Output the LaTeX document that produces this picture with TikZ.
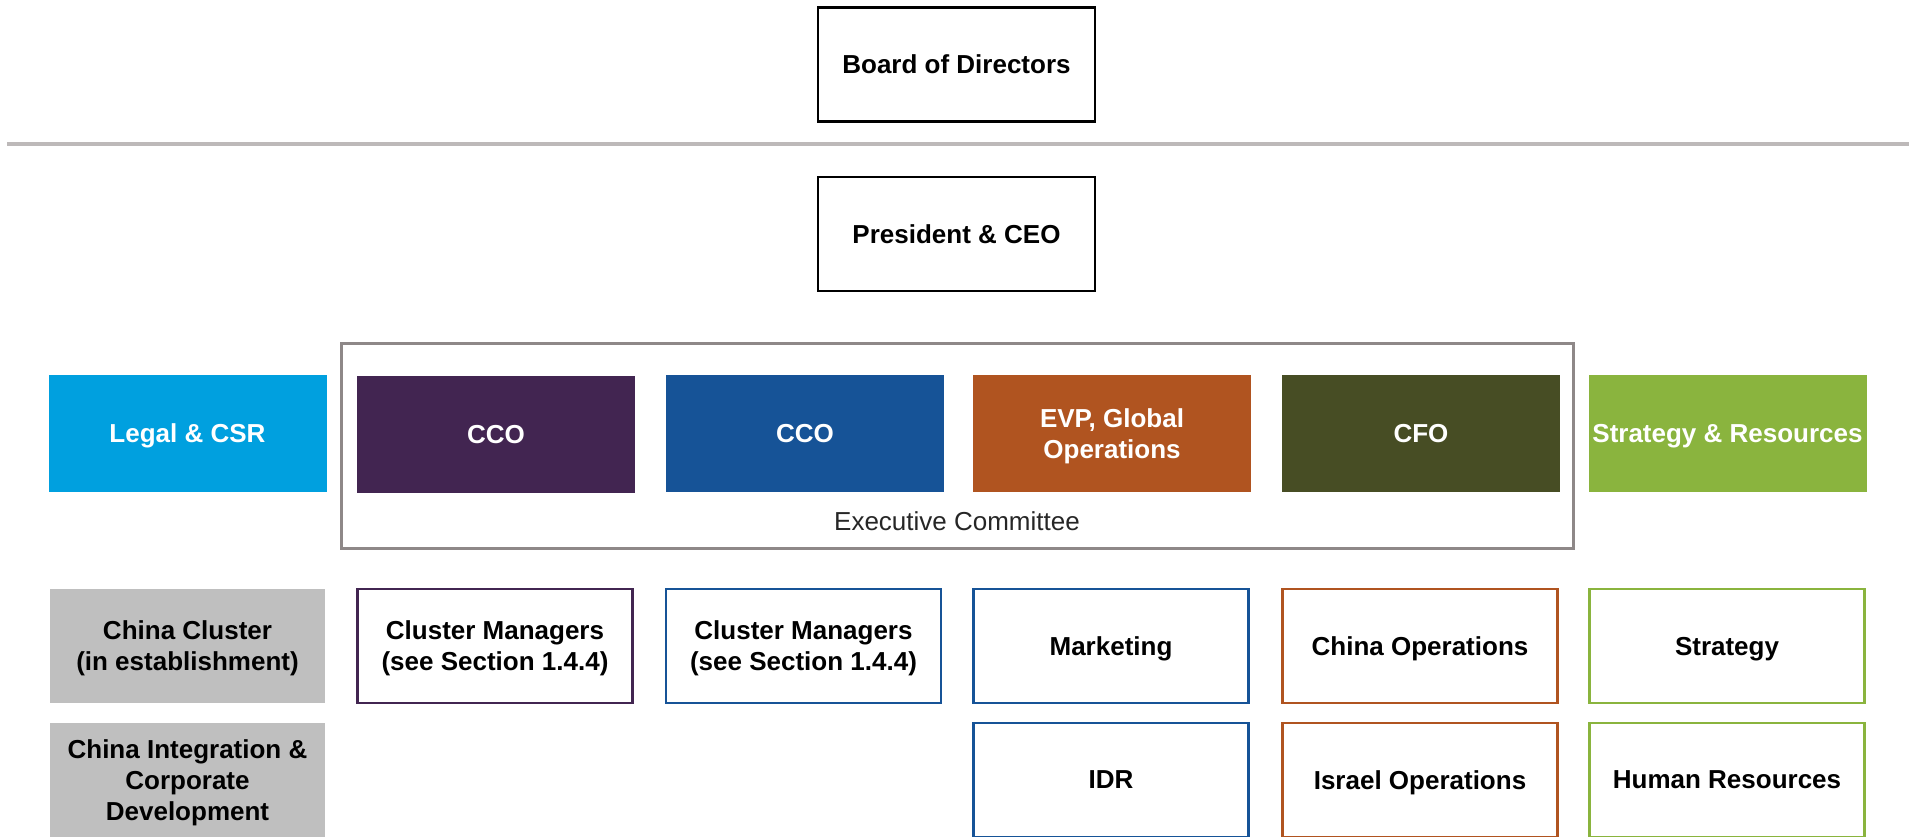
\documentclass[tikz,border=0pt]{standalone}
\usepackage{fontspec}
\setmainfont{Liberation Sans}
\definecolor{legalblue}{HTML}{00A0DF}
\definecolor{ccopurple}{HTML}{422551}
\definecolor{ccoblue}{HTML}{165397}
\definecolor{evporange}{HTML}{B05420}
\definecolor{cfoolive}{HTML}{474D24}
\definecolor{stratgreen}{HTML}{8AB43E}
\definecolor{unitgray}{HTML}{BFBFBF}
\definecolor{rulegray}{HTML}{BDB9B9}
\definecolor{framegray}{HTML}{8E8888}
\definecolor{labelgray}{HTML}{262626}
\begin{document}
\begin{tikzpicture}[x=0.5pt,y=-0.5pt,
  base/.style={rectangle, inner sep=0pt, outer sep=0pt, align=center,
    text depth=-0.3pt, font=\fontsize{13}{15.5}\selectfont\bfseries},
  topbox/.style={base, draw=black, line width=1.4pt, fill=white,
    minimum width=138.5pt, minimum height=57pt},
  headbox/.style={base, fill=#1, text=white,
    minimum width=139pt, minimum height=58.5pt},
  unitbox/.style={base, draw=#1, line width=1.4pt, fill=white,
    minimum width=137.5pt, minimum height=57pt},
  graybox/.style={base, fill=unitgray,
    minimum width=137.5pt, minimum height=57pt}
]
\useasboundingbox (0,0) rectangle (1909,836);

% board and chief executive
\node[topbox] (board) at (956.5,64.5) {Board of Directors};
\coordinate (ruleL) at (7,144);
\coordinate (ruleR) at (1909,144);
\draw[rulegray, line width=1.6pt] (ruleL) -- (ruleR);
\node[topbox] (ceo) at (956.5,234) {President \& CEO};

% executive committee frame
\node[rectangle, draw=framegray, line width=1.5pt, inner sep=0pt,
  minimum width=616pt, minimum height=102.5pt] (exec) at (957,445.5) {};
\node[font=\fontsize{13}{15.5}\selectfont, text=labelgray, inner sep=0pt]
  (execlabel) at (957,521) {Executive Committee};

% heads of functions
\node[headbox=legalblue] (legal) at (187.5,433.5) {Legal \& CSR};
\node[headbox=ccopurple] (cco1) at (496,434) {CCO};
\node[headbox=ccoblue] (cco2) at (805,433.5) {CCO};
\node[headbox=evporange] (evp) at (1112,433.5) {EVP, Global\\Operations};
\node[headbox=cfoolive] (cfo) at (1421,433.5) {CFO};
\node[headbox=stratgreen] (strat) at (1727.5,433.5) {Strategy \& Resources};

% first row of units
\node[graybox] (chinacluster) at (187.5,646) {China Cluster\\(in establishment)};
\node[unitbox=ccopurple] (cm1) at (495,646) {Cluster Managers\\(see Section 1.4.4)};
\node[unitbox=ccoblue] (cm2) at (803.5,646) {Cluster Managers\\(see Section 1.4.4)};
\node[unitbox=ccoblue] (marketing) at (1111,646) {Marketing};
\node[unitbox=evporange] (chinaops) at (1420,646) {China Operations};
\node[unitbox=stratgreen] (strategy) at (1727,646) {Strategy};

% second row of units
\node[graybox] (chinaint) at (187.5,780) {China Integration \&\\Corporate\\Development};
\node[unitbox=ccoblue] (idr) at (1111,780) {IDR};
\node[unitbox=evporange] (israelops) at (1420,780) {Israel Operations};
\node[unitbox=stratgreen] (hr) at (1727,780) {Human Resources};
\end{tikzpicture}
\end{document}
